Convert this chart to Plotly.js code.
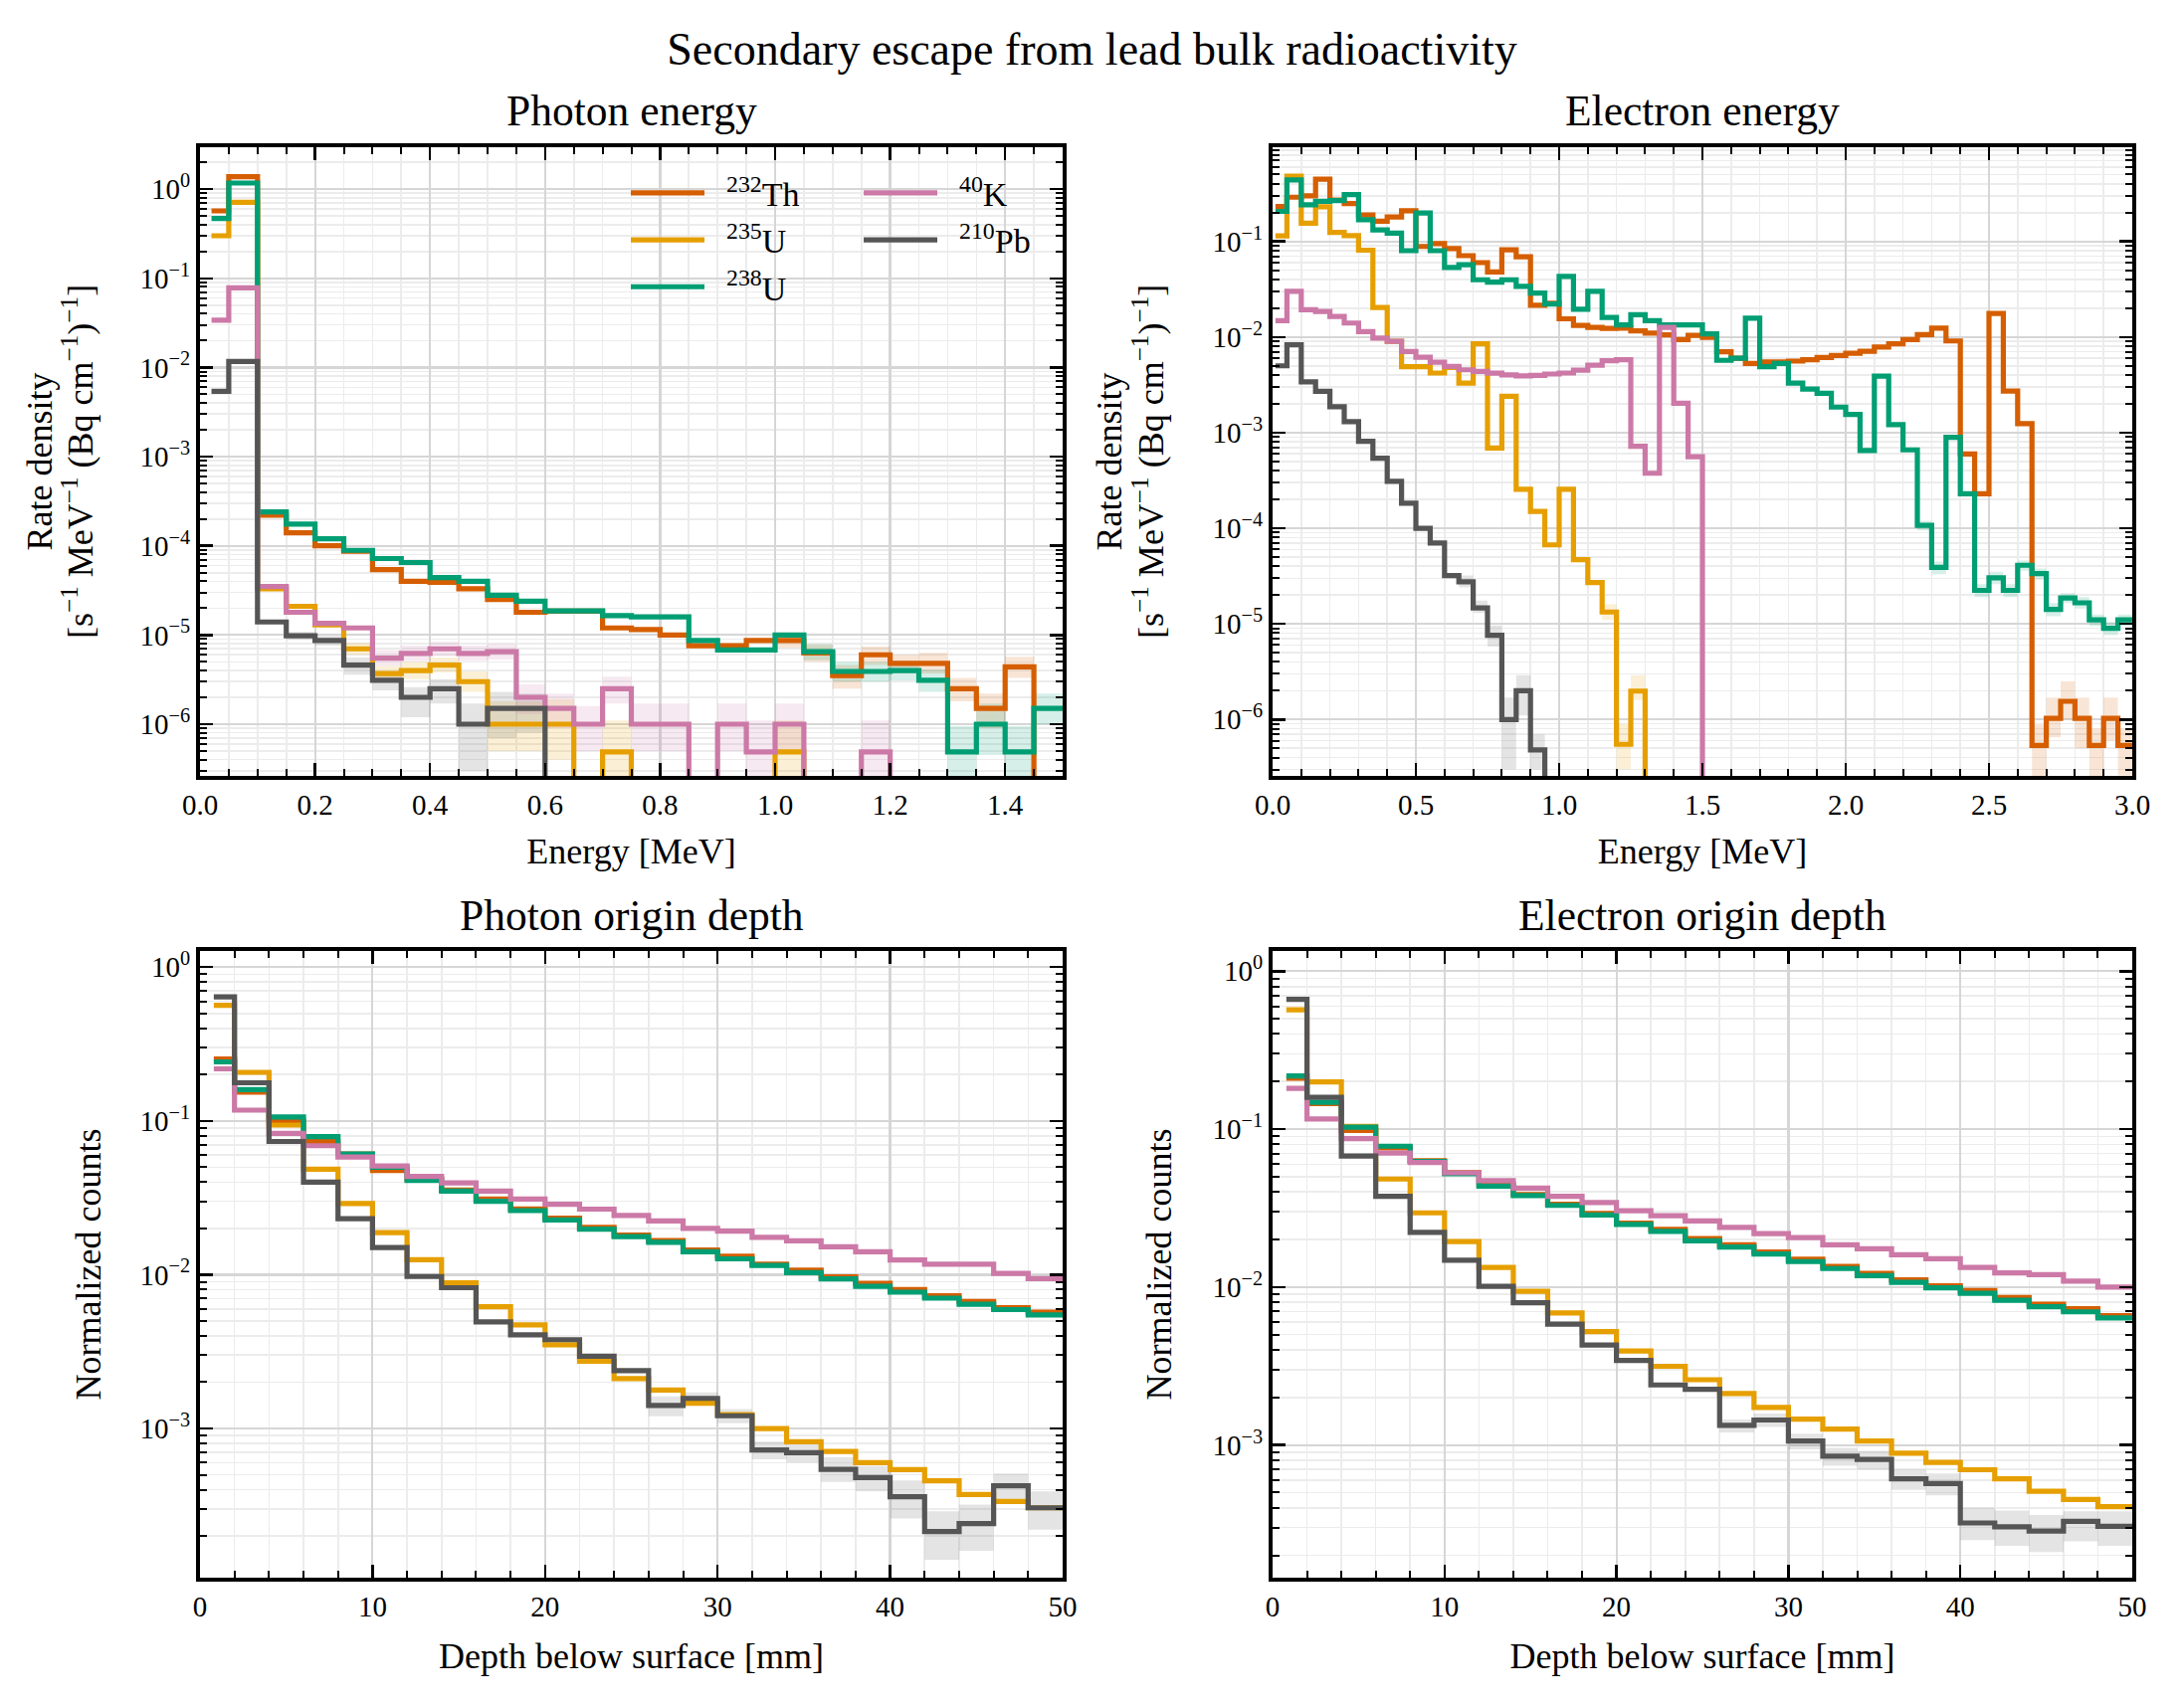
<!DOCTYPE html>
<html>
<head>
<meta charset="utf-8">
<script src="https://cdn.plot.ly/plotly-3.0.1.min.js"></script>
<style>html,body{margin:0;padding:0;background:#fff;}</style>
</head>
<body>
<div id="chart" style="width:2195px;height:1715px;"></div>
<script>
// ---------------- data ----------------
const isotopeNames = ['<sup>232</sup>Th', '<sup>235</sup>U', '<sup>238</sup>U', '<sup>40</sup>K', '<sup>210</sup>Pb'];
const isotopeColors = ['#d55e00', '#e69f00', '#009e73', '#cc79a7', '#555555'];

// bin layout
const photonFirstEdge = 0.02, photonBinWidth = 0.05, photonBins = 30;
const electronFirstEdge = 0.01, electronBinWidth = 0.05, electronBins = 60;
const depthFirstEdge = 0.8, depthBinWidth = 2, depthBins = 25;

// Photon energy spectra [s^-1 MeV^-1 (Bq cm^-1)^-1]
const photonTh232 = [0.57, 1.38, 2.2e-4, 1.4e-4, 1.0e-4, 8.7e-5, 5.4e-5, 4.0e-5, 3.9e-5, 3.3e-5,
  2.5e-5, 1.8e-5, 1.85e-5, 1.85e-5, 1.2e-5, 1.15e-5, 1.0e-5, 7.6e-6, 7.6e-6, 8.7e-6,
  8.7e-6, 6.3e-6, 3.5e-6, 6.0e-6, 4.8e-6, 4.8e-6, 2.5e-6, 1.5e-6, 4.4e-6, 0];
const photonU235 = [0.30, 0.71, 3.3e-5, 2.1e-5, 1.3e-5, 7.0e-6, 3.7e-6, 4.0e-6, 4.6e-6, 3.0e-6,
  1.0e-6, 1.0e-6, 1.0e-6, 0, 4.9e-7, 0, 0, 0, 0, 0,
  4.9e-7, 0, 0, 0, 0, 0, 0, 0, 0, 0];
const photonU238 = [0.47, 1.17, 2.4e-4, 1.75e-4, 1.2e-4, 8.9e-5, 7.2e-5, 6.5e-5, 4.4e-5, 4.0e-5,
  2.8e-5, 2.4e-5, 1.86e-5, 1.86e-5, 1.65e-5, 1.6e-5, 1.6e-5, 8.7e-6, 6.8e-6, 6.8e-6,
  1.0e-5, 6.5e-6, 3.9e-6, 3.9e-6, 4.0e-6, 3.1e-6, 4.9e-7, 1.0e-6, 4.9e-7, 1.5e-6];
const photonK40 = [0.034, 0.078, 3.5e-5, 1.8e-5, 1.35e-5, 1.2e-5, 5.5e-6, 6.2e-6, 7.0e-6, 6.2e-6,
  6.5e-6, 2.0e-6, 1.5e-6, 1.0e-6, 2.5e-6, 1.0e-6, 1.0e-6, 0, 1.0e-6, 4.9e-7,
  1.0e-6, 0, 0, 4.9e-7, 0, 0, 0, 0, 0, 0];
const photonPb210 = [5.4e-3, 0.0117, 1.4e-5, 9.8e-6, 8.7e-6, 4.6e-6, 3.1e-6, 2.0e-6, 2.5e-6, 1.0e-6,
  1.5e-6, 1.5e-6, 0, 0, 0, 0, 0, 0, 0, 0,
  0, 0, 0, 0, 0, 0, 0, 0, 0, 0];

// Electron energy spectra
const electronTh232 = [0.232, 0.29, 0.30, 0.448, 0.27, 0.249, 0.189, 0.163, 0.18, 0.209,
  0.0886, 0.095, 0.084, 0.071, 0.060, 0.048, 0.0817, 0.069, 0.0215, 0.0226,
  0.0155, 0.0132, 0.0126, 0.0123, 0.0124, 0.0116, 0.011, 0.01055, 0.0094, 0.0104,
  0.0099, 0.0070, 0.0060, 0.0053, 0.0055, 0.0055, 0.0056, 0.0058, 0.0061, 0.0064,
  0.00675, 0.0071, 0.00785, 0.0085, 0.0094, 0.0106, 0.0124, 0.0091, 5.97e-4, 2.29e-4,
  0.0176, 2.72e-3, 1.24e-3, 5.35e-7, 1.03e-6, 1.55e-6, 1.03e-6, 5.35e-7, 1.03e-6, 5.35e-7];
const electronU235 = [0.114, 0.48, 0.155, 0.23, 0.124, 0.115, 0.081, 0.0204, 9.0e-3, 4.9e-3,
  4.9e-3, 4.2e-3, 4.8e-3, 3.3e-3, 8.5e-3, 6.9e-4, 2.4e-3, 2.55e-4, 1.5e-4, 6.7e-5,
  2.55e-4, 4.7e-5, 2.7e-5, 1.33e-5, 5.5e-7, 1.98e-6, 0, 0, 0, 0,
  0, 0, 0, 0, 0, 0, 0, 0, 0, 0,
  0, 0, 0, 0, 0, 0, 0, 0, 0, 0,
  0, 0, 0, 0, 0, 0, 0, 0, 0, 0];
const electronU238 = [0.206, 0.44, 0.242, 0.262, 0.267, 0.308, 0.169, 0.132, 0.122, 0.080,
  0.198, 0.080, 0.0534, 0.057, 0.0397, 0.0375, 0.0397, 0.0338, 0.0288, 0.0221,
  0.043, 0.0195, 0.030, 0.016, 0.0134, 0.0171, 0.0148, 0.0134, 0.0134, 0.0134,
  0.0108, 0.0057, 0.0060, 0.0157, 0.0049, 0.0053, 0.0033, 0.00285, 0.00258, 0.00185,
  0.00155, 6.5e-4, 0.0039, 0.00121, 6.6e-4, 1.07e-4, 3.9e-5, 8.95e-4, 2.29e-4, 2.24e-5,
  3.03e-5, 2.24e-5, 4.1e-5, 3.36e-5, 1.42e-5, 1.87e-5, 1.66e-5, 1.1e-5, 9.0e-6, 1.1e-5];
const electronK40 = [0.0148, 0.030, 0.0193, 0.0185, 0.0164, 0.014, 0.0114, 0.00973, 0.009, 0.00706,
  0.00616, 0.00546, 0.00492, 0.00454, 0.00436, 0.00419, 0.00402, 0.00393, 0.00396, 0.0041,
  0.0042, 0.0045, 0.00508, 0.00564, 0.00578, 7.2e-4, 3.76e-4, 0.0126, 2.03e-3, 5.6e-4,
  0, 0, 0, 0, 0, 0, 0, 0, 0, 0,
  0, 0, 0, 0, 0, 0, 0, 0, 0, 0,
  0, 0, 0, 0, 0, 0, 0, 0, 0, 0];
const electronPb210 = [5.0e-3, 8.3e-3, 3.4e-3, 2.7e-3, 1.87e-3, 1.3e-3, 8.1e-4, 5.4e-4, 3.1e-4, 1.83e-4,
  1.0e-4, 7.0e-5, 3.2e-5, 2.75e-5, 1.47e-5, 7.6e-6, 1.0e-6, 2.0e-6, 4.8e-7, 0,
  0, 0, 0, 0, 0, 0, 0, 0, 0, 0,
  0, 0, 0, 0, 0, 0, 0, 0, 0, 0,
  0, 0, 0, 0, 0, 0, 0, 0, 0, 0,
  0, 0, 0, 0, 0, 0, 0, 0, 0, 0];

// Photon origin depth (normalized counts)
const photonDepthTh232 = [0.253, 0.154, 0.100, 0.0734, 0.061, 0.0477, 0.042, 0.0355, 0.031, 0.0268,
  0.0233, 0.0203, 0.0181, 0.0167, 0.0145, 0.0132, 0.0117, 0.0107, 0.0097, 0.0088,
  0.0080, 0.0073, 0.0067, 0.0061, 0.0057];
const photonDepthU235 = [0.565, 0.207, 0.094, 0.0485, 0.029, 0.0188, 0.0125, 0.00884, 0.0062, 0.00472,
  0.0035, 0.00274, 0.00211, 0.00178, 0.00146, 0.00123, 1.0e-3, 8.2e-4, 7.1e-4, 6.0e-4,
  5.4e-4, 4.57e-4, 3.72e-4, 3.35e-4, 3.05e-4];
const photonDepthU238 = [0.242, 0.16, 0.106, 0.079, 0.061, 0.050, 0.041, 0.035, 0.030, 0.0261,
  0.0227, 0.0198, 0.0177, 0.01625, 0.0141, 0.01268, 0.01148, 0.0103, 0.0094, 0.0084,
  0.0077, 0.00704, 0.00642, 0.00593, 0.00547];
const photonDepthK40 = [0.218, 0.1175, 0.083, 0.069, 0.0583, 0.051, 0.0436, 0.0395, 0.035, 0.031,
  0.0287, 0.0267, 0.0243, 0.0224, 0.020, 0.0192, 0.0175, 0.0166, 0.0152, 0.0141,
  0.01245, 0.0117, 0.0117, 0.0102, 0.00944];
const photonDepthPb210 = [0.64, 0.177, 0.0735, 0.040, 0.0231, 0.0150, 0.00973, 0.00823, 0.00493, 0.00407,
  0.00378, 0.00295, 0.00238, 0.00141, 0.00157, 0.00121, 7.25e-4, 6.95e-4, 5.42e-4, 4.79e-4,
  3.6e-4, 2.14e-4, 2.41e-4, 4.24e-4, 3.05e-4];

// Electron origin depth (normalized counts)
const electronDepthTh232 = [0.21, 0.145, 0.098, 0.076, 0.063, 0.053, 0.0445, 0.0385, 0.0335, 0.0292,
  0.0254, 0.0232, 0.0203, 0.0185, 0.0167, 0.015, 0.0135, 0.0122, 0.0111, 0.0102,
  0.0095, 0.0086, 0.0078, 0.0073, 0.0066];
const electronDepthU235 = [0.569, 0.199, 0.104, 0.0483, 0.0295, 0.0194, 0.0133, 0.0094, 0.00685, 0.00523,
  0.00394, 0.00315, 0.00259, 0.00212, 0.00173, 0.00146, 0.00126, 0.00106, 8.87e-4, 7.77e-4,
  6.97e-4, 6.1e-4, 5.1e-4, 4.52e-4, 4.07e-4];
const electronDepthU238 = [0.217, 0.148, 0.103, 0.078, 0.0625, 0.0522, 0.0436, 0.038, 0.0329, 0.0286,
  0.0249, 0.0225, 0.0196, 0.0179, 0.0162, 0.0145, 0.0131, 0.0118, 0.0107, 0.0099,
  0.00914, 0.00824, 0.0075, 0.00697, 0.00637];
const electronDepthK40 = [0.181, 0.116, 0.087, 0.0706, 0.0615, 0.0529, 0.0472, 0.0423, 0.0375, 0.0343,
  0.0304, 0.0283, 0.0262, 0.0239, 0.0218, 0.0206, 0.0185, 0.0175, 0.016, 0.0151,
  0.0133, 0.0123, 0.012, 0.0109, 0.0100];
const electronDepthPb210 = [0.664, 0.159, 0.0676, 0.0375, 0.0222, 0.0148, 0.0101, 0.00796, 0.00582, 0.0043,
  0.00343, 0.0024, 0.00225, 0.00133, 0.00144, 0.00106, 8.5e-4, 8.1e-4, 6.1e-4, 5.7e-4,
  3.21e-4, 3.03e-4, 2.85e-4, 3.29e-4, 3.06e-4];

// Uncertainty bands: [bin index, lower, upper]
const photonBandTh232 = [[20,7.2e-6,1.05e-5],[21,5.0e-6,7.8e-6],[22,2.5e-6,4.6e-6],[23,4.6e-6,7.4e-6],[24,3.7e-6,6.0e-6],[25,3.7e-6,6.3e-6],[26,1.8e-6,3.3e-6],[27,9e-7,2.2e-6],[28,3.3e-6,5.7e-6]];
const photonBandU235 = [[5,6.0e-6,8.2e-6],[6,3.0e-6,4.5e-6],[7,3.2e-6,5.0e-6],[8,3.8e-6,5.6e-6],[9,2.3e-6,3.9e-6],[10,5e-7,1.8e-6],[11,5e-7,1.8e-6],[12,4e-7,1.9e-6],[14,1.5e-7,1.1e-6],[20,1.5e-7,1.1e-6]];
const photonBandU238 = [[21,5.2e-6,7.9e-6],[22,3.0e-6,5.0e-6],[23,3.0e-6,5.0e-6],[24,3.1e-6,5.1e-6],[25,2.3e-6,4.1e-6],[26,1.5e-7,9.5e-7],[27,4.5e-7,1.7e-6],[28,1.5e-7,9.5e-7],[29,1.0e-6,2.2e-6]];
const photonBandK40 = [[6,4.5e-6,6.8e-6],[7,5.1e-6,7.6e-6],[8,5.8e-6,8.4e-6],[9,5.1e-6,7.6e-6],[10,5.3e-6,7.9e-6],[11,1.3e-6,2.8e-6],[12,9e-7,2.2e-6],[13,5e-7,1.6e-6],[14,1.7e-6,3.4e-6],[15,5e-7,1.7e-6],[16,5e-7,1.7e-6],[18,5e-7,1.7e-6],[19,1.5e-7,1.1e-6],[20,5e-7,1.7e-6],[23,1.5e-7,1.1e-6]];
const photonBandPb210 = [[3,8.8e-6,1.08e-5],[4,7.6e-6,9.8e-6],[5,3.6e-6,5.6e-6],[6,2.4e-6,3.8e-6],[7,1.2e-6,2.6e-6],[8,1.7e-6,3.2e-6],[9,3.0e-7,1.7e-6],[10,7e-7,2.3e-6],[11,8e-7,2.2e-6]];
const electronBandTh232 = [[53,2.4e-7,8.9e-7],[54,6.5e-7,1.7e-6],[55,1.0e-6,2.5e-6],[56,5e-7,1.7e-6],[57,2.4e-7,8e-7],[58,6e-7,1.7e-6],[59,2.6e-7,8e-7]];
const electronBandU235 = [[23,1.1e-5,1.6e-5],[24,3.0e-7,9.0e-7],[25,1.6e-6,2.9e-6]];
const electronBandU238 = [[45,9.5e-5,1.2e-4],[46,3.3e-5,4.5e-5],[49,1.9e-5,2.6e-5],[50,2.6e-5,3.5e-5],[51,1.9e-5,2.6e-5],[52,3.6e-5,4.6e-5],[53,2.9e-5,3.8e-5],[54,1.2e-5,1.65e-5],[55,1.65e-5,2.1e-5],[56,1.45e-5,1.9e-5],[57,9.5e-6,1.25e-5],[58,7.6e-6,1.05e-5],[59,9.5e-6,1.25e-5]];
const electronBandPb210 = [[13,2.4e-5,3.2e-5],[14,1.3e-5,1.75e-5],[15,5.8e-6,9.6e-6],[16,3.0e-7,1.7e-6],[17,1.1e-6,2.9e-6],[18,3.0e-7,7.0e-7]];
const photonDepthBandPb210 = [[13,1.2e-3,1.62e-3],[14,1.42e-3,1.72e-3],[15,1.08e-3,1.34e-3],[16,6.3e-4,8.2e-4],[17,6.0e-4,7.9e-4],[18,4.5e-4,6.5e-4],[19,3.9e-4,5.7e-4],[20,2.6e-4,4.6e-4],[21,1.4e-4,2.9e-4],[22,1.6e-4,3.2e-4],[23,3.4e-4,5.1e-4],[24,2.2e-4,3.9e-4]];
const electronDepthBandPb210 = [[13,1.2e-3,1.45e-3],[14,1.3e-3,1.58e-3],[15,9.4e-4,1.18e-3],[16,7.4e-4,9.6e-4],[17,7.0e-4,9.2e-4],[18,5.2e-4,7.0e-4],[19,4.8e-4,6.6e-4],[20,2.5e-4,4.0e-4],[21,2.3e-4,3.85e-4],[22,2.1e-4,3.6e-4],[23,2.45e-4,3.8e-4],[24,2.3e-4,3.8e-4]];

// tick labels
const energyPhotonTicks = [0, 0.2, 0.4, 0.6, 0.8, 1.0, 1.2, 1.4];
const energyElectronTicks = [0, 0.5, 1.0, 1.5, 2.0, 2.5, 3.0];
const depthTicks = [0, 10, 20, 30, 40, 50];
const logTickVals = [1, 1e-1, 1e-2, 1e-3, 1e-4, 1e-5, 1e-6];
const logTickText = ['10<sup>0</sup>', '10<sup>\u22121</sup>', '10<sup>\u22122</sup>', '10<sup>\u22123</sup>', '10<sup>\u22124</sup>', '10<sup>\u22125</sup>', '10<sup>\u22126</sup>'];

// ---------------- drawing ----------------
const FONT = '"Liberation Serif", "DejaVu Serif", serif';
const LW = 5.2;
const FLOOR = 1e-12;

function makeEdges(first, width, n) {
  const e = [first];
  for (let i = 1; i <= n; i++) e.push(+(width * i).toFixed(4));
  return e;
}
const photonEdges = makeEdges(photonFirstEdge, photonBinWidth, photonBins);
const electronEdges = makeEdges(electronFirstEdge, electronBinWidth, electronBins);
const depthEdges = makeEdges(depthFirstEdge, depthBinWidth, depthBins);

function hexToRgba(hex, a) {
  const n = parseInt(hex.slice(1), 16);
  return 'rgba(' + ((n >> 16) & 255) + ',' + ((n >> 8) & 255) + ',' + (n & 255) + ',' + a + ')';
}

function stepTrace(edges, vals, k, xa, ya, showLegend) {
  const y = vals.map(v => (v > 0 ? v : FLOOR));
  y.push(y[y.length - 1]);
  return {
    type: 'scatter', mode: 'lines', x: edges, y: y, xaxis: xa, yaxis: ya,
    line: { color: isotopeColors[k], width: LW, shape: 'hv' },
    name: '\u00a0\u00a0' + isotopeNames[k],
    legend: k < 3 ? 'legend' : 'legend2',
    showlegend: showLegend, hoverinfo: 'skip'
  };
}

function bandTrace(edges, band, k, xa, ya) {
  const x = [], y = [];
  band.forEach(([i, lo, hi]) => {
    x.push(edges[i], edges[i + 1], edges[i + 1], edges[i], edges[i], null);
    y.push(lo, lo, hi, hi, lo, null);
  });
  return {
    type: 'scatter', mode: 'lines', x: x, y: y, xaxis: xa, yaxis: ya,
    fill: 'toself', fillcolor: hexToRgba(isotopeColors[k], 0.16),
    line: { width: 0, color: 'rgba(0,0,0,0)' }, showlegend: false, hoverinfo: 'skip'
  };
}

const panels = [
  { xa: 'x', ya: 'y', edges: photonEdges,
    series: [photonTh232, photonU235, photonU238, photonK40, photonPb210],
    bands: [photonBandTh232, photonBandU235, photonBandU238, photonBandK40, photonBandPb210] },
  { xa: 'x2', ya: 'y2', edges: electronEdges,
    series: [electronTh232, electronU235, electronU238, electronK40, electronPb210],
    bands: [electronBandTh232, electronBandU235, electronBandU238, null, electronBandPb210] },
  { xa: 'x3', ya: 'y3', edges: depthEdges,
    series: [photonDepthTh232, photonDepthU235, photonDepthU238, photonDepthK40, photonDepthPb210],
    bands: [null, null, null, null, photonDepthBandPb210] },
  { xa: 'x4', ya: 'y4', edges: depthEdges,
    series: [electronDepthTh232, electronDepthU235, electronDepthU238, electronDepthK40, electronDepthPb210],
    bands: [null, null, null, null, electronDepthBandPb210] }
];

const traces = [];
panels.forEach(p => {
  p.bands.forEach((b, k) => { if (b) traces.push(bandTrace(p.edges, b, k, p.xa, p.ya)); });
});
panels.forEach((p, pi) => {
  p.series.forEach((s, k) => traces.push(stepTrace(p.edges, s, k, p.xa, p.ya, pi === 0)));
});

function minorLogVals() {
  const v = [];
  for (let d = -8; d <= 1; d++) for (let m = 2; m <= 9; m++) v.push(m * Math.pow(10, d));
  return v;
}

const baseAxis = {
  showline: true, linecolor: '#000', linewidth: 4, mirror: 'allticks',
  ticks: 'inside', ticklen: 13, tickwidth: 2.5, tickcolor: '#000',
  showgrid: true, gridcolor: '#d6d6d6', gridwidth: 2.2, zeroline: false,
  tickfont: { family: FONT, size: 29, color: '#000' },
  automargin: false, fixedrange: true
};
const titleFont = { family: FONT, size: 36, color: '#000' };

function xAxis(domain, range, ticks, minorDtick, fmt, title, anchor, standoff) {
  return Object.assign({}, baseAxis, {
    domain: domain, range: range, anchor: anchor,
    tickmode: 'array', tickvals: ticks, ticktext: ticks.map(t => fmt(t)),
    minor: { tickmode: 'linear', tick0: 0, dtick: minorDtick, ticks: 'inside', ticklen: 7, tickwidth: 2, tickcolor: '#000',
      showgrid: true, gridcolor: '#ececec', gridwidth: 1.6 },
    title: { text: title, font: titleFont, standoff: standoff }
  });
}
function yAxis(domain, range, title, anchor, standoff) {
  return Object.assign({}, baseAxis, {
    domain: domain, type: 'log', range: range, anchor: anchor,
    tickmode: 'array', tickvals: logTickVals, ticktext: logTickText,
    minor: { tickmode: 'array', tickvals: minorLogVals(), ticks: 'inside', ticklen: 7, tickwidth: 2, tickcolor: '#000',
      showgrid: true, gridcolor: '#ececec', gridwidth: 1.6 },
    title: { text: title, font: titleFont, standoff: standoff }
  });
}

const colL = [0, 0.44645], colR = [0.5551, 1];
const rowT = [0.5605, 1], rowB = [0, 0.43811];
const rateUnit = '[s<sup>\u22121</sup> MeV<sup>\u22121</sup> (Bq cm<sup>\u22121</sup>)<sup>\u22121</sup>]';
const f1 = t => t.toFixed(1), f0 = t => t.toFixed(0);
const subTitleFont = { family: FONT, size: 43.5, color: '#000' };

const layout = {
  width: 2195, height: 1715,
  margin: { l: 201, r: 52, t: 148, b: 129 },
  paper_bgcolor: '#fff', plot_bgcolor: '#fff',
  font: { family: FONT, color: '#000' },
  hovermode: false,
  title: { text: 'Secondary escape from lead bulk radioactivity', font: { family: FONT, size: 46, color: '#000' },
    xref: 'container', x: 0.5, xanchor: 'center', yref: 'container', y: 0.9714, yanchor: 'middle' },
  xaxis: xAxis(colL, [0, 1.5], energyPhotonTicks, 0.05, f1, 'Energy [MeV]', 'y', 20),
  yaxis: yAxis(rowT, [-6.58, 0.47], 'Rate density', 'x', 78),
  xaxis2: xAxis(colR, [0, 3.0], energyElectronTicks, 0.1, f1, 'Energy [MeV]', 'y2', 20),
  yaxis2: yAxis(rowT, [-6.59, -0.015], 'Rate density', 'x2', 81),
  xaxis3: xAxis(colL, [0, 50], depthTicks, 2, f0, 'Depth below surface [mm]', 'y3', 23),
  yaxis3: yAxis(rowB, [-3.97, 0.105], 'Normalized counts', 'x3', 29),
  xaxis4: xAxis(colR, [0, 50], depthTicks, 2, f0, 'Depth below surface [mm]', 'y4', 23),
  yaxis4: yAxis(rowB, [-3.84, 0.128], 'Normalized counts', 'x4', 31),
  legend: { x: 0.2204, y: 0.988, xanchor: 'left', yanchor: 'top', bgcolor: 'rgba(0,0,0,0)', borderwidth: 0,
    font: { family: FONT, size: 34, color: '#000' }, itemwidth: 74, tracegroupgap: 0 },
  legend2: { x: 0.3409, y: 0.988, xanchor: 'left', yanchor: 'top', bgcolor: 'rgba(0,0,0,0)', borderwidth: 0,
    font: { family: FONT, size: 34, color: '#000' }, itemwidth: 74, tracegroupgap: 0 },
  annotations: [
    { text: 'Photon energy', xref: 'paper', yref: 'paper', x: (colL[0] + colL[1]) / 2, y: 1.0255, xanchor: 'center', yanchor: 'middle', showarrow: false, font: subTitleFont },
    { text: 'Electron energy', xref: 'paper', yref: 'paper', x: (colR[0] + colR[1]) / 2, y: 1.0255, xanchor: 'center', yanchor: 'middle', showarrow: false, font: subTitleFont },
    { text: 'Photon origin depth', xref: 'paper', yref: 'paper', x: (colL[0] + colL[1]) / 2, y: 0.4631, xanchor: 'center', yanchor: 'middle', showarrow: false, font: subTitleFont },
    { text: 'Electron origin depth', xref: 'paper', yref: 'paper', x: (colR[0] + colR[1]) / 2, y: 0.4631, xanchor: 'center', yanchor: 'middle', showarrow: false, font: subTitleFont },
    { text: rateUnit, xref: 'paper', yref: 'paper', x: -0.0633, y: (rowT[0] + rowT[1]) / 2, xanchor: 'center', yanchor: 'middle', textangle: -90, showarrow: false, font: titleFont },
    { text: rateUnit, xref: 'paper', yref: 'paper', x: 0.4907, y: (rowT[0] + rowT[1]) / 2, xanchor: 'center', yanchor: 'middle', textangle: -90, showarrow: false, font: titleFont }
  ]
};

Plotly.newPlot('chart', traces, layout, { displayModeBar: false, staticPlot: true });
</script>
</body>
</html>
